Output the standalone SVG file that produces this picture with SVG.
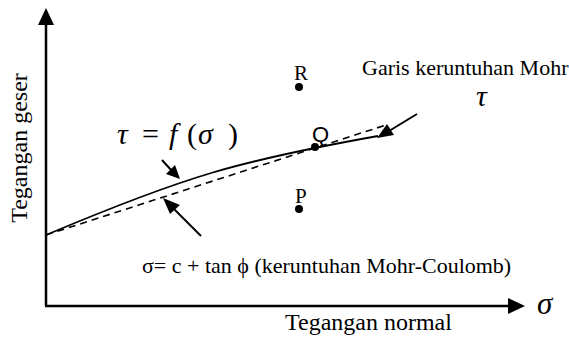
<svg xmlns="http://www.w3.org/2000/svg" width="569" height="338" viewBox="0 0 569 338">
<style>
.t{font-family:"Liberation Serif","Times New Roman",serif;fill:#000}
.i{font-style:italic}
.ax{stroke:#000;stroke-width:2.5;fill:none}
.cv{stroke:#000;stroke-width:1.8;fill:none}
.ds{stroke:#000;stroke-width:1.6;fill:none;stroke-dasharray:7 5}
.ar{stroke:#000;stroke-width:2;fill:none}
</style>
<rect width="569" height="338" fill="#fff"/>
<g id="axes">
<line class="ax" x1="46" y1="306" x2="46" y2="22"/>
<polygon points="46,8 38,25 54,25" fill="#000"/>
<line class="ax" x1="45" y1="306" x2="512" y2="306"/>
<polygon points="525,306 508,298 508,314" fill="#000"/>
</g>
<g id="connectors">
<path class="ds" d="M46,235 L386,125"/>
<path class="cv" d="M46,235 C186,176 238,161 378,136"/>
<line class="ar" x1="162" y1="160" x2="172" y2="171"/>
<polygon points="180,179 166,174 175,165" fill="#000"/>
<line class="ar" x1="201" y1="236" x2="173" y2="208"/>
<polygon points="163,198 180,205 170,214" fill="#000"/>
<line class="ar" x1="417" y1="114" x2="389" y2="131"/>
<polygon points="377,138 387,124 394,135" fill="#000"/>
</g>
<g id="point-R">
<circle cx="299" cy="87" r="4"/>
<text class="t" x="294" y="80" font-size="21">R</text>
</g>
<g id="point-Q">
<circle cx="315" cy="147" r="4"/>
<text x="312" y="142" font-size="22" style="font-family:'Liberation Sans',Arial,sans-serif">Q</text>
</g>
<g id="point-P">
<circle cx="299" cy="209" r="4"/>
<text class="t" x="295" y="203" font-size="21">P</text>
</g>
<g id="labels">
<text class="t" transform="translate(27,148) rotate(-90)" font-size="24" text-anchor="middle">Tegangan geser</text>
<text class="t" x="285" y="330" font-size="24">Tegangan normal</text>
<text class="t i" x="537" y="314" font-size="31">σ</text>
<text class="t" x="362" y="75" font-size="22">Garis keruntuhan Mohr</text>
<text class="t i" x="476" y="106" font-size="30">τ</text>
<text class="t" y="144" font-size="30"><tspan class="i" x="117">τ</tspan> <tspan x="142">=</tspan> <tspan class="i" x="169">f</tspan> <tspan x="187">(</tspan><tspan class="i" x="198">σ</tspan><tspan x="228">)</tspan></text>
<text class="t" x="142" y="273" font-size="22">σ= c + tan ϕ (keruntuhan Mohr-Coulomb)</text>
</g>
</svg>
